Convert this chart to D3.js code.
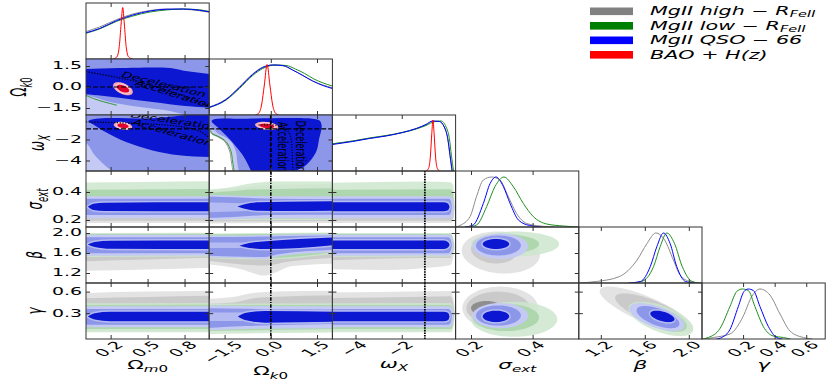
<!DOCTYPE html>
<html><head><meta charset="utf-8">
<script src="https://cdn.jsdelivr.net/npm/d3@7"></script>
<style>body{margin:0;background:#fff}svg{display:block}text{font-family:"DejaVu Sans",sans-serif}</style>
</head><body><svg id="c" width="831" height="382"></svg>
<script>
// ---------------- DATA ----------------
const paramLabels = [
  [["Ω","n"],["m","si"],["0","sn"]],
  [["Ω","n"],["k","si"],["0","sn"]],
  [["ω","i"],["X","si"]],
  [["σ","i"],["ext","si"]],
  [["β","i"]],
  [["γ","i"]]
];
const domains = [[0,1],[-2,2],[-5,0.33],[0.15,0.55],[1.0,2.12],[-0.06,0.72]];
const xTickVals = [[0.2,0.5,0.8],[-1.5,0,1.5],[-4,-2],[0.2,0.4],[1.2,1.6,2.0],[0.2,0.4,0.6]];
const xTickText = [["0.2","0.5","0.8"],["−1.5","0.0","1.5"],["−4","−2"],["0.2","0.4"],["1.2","1.6","2.0"],["0.2","0.4","0.6"]];
const yTickVals = [[],[-1.5,0,1.5],[-4,-2],[0.2,0.4],[1.2,1.6,2.0],[0.3,0.6]];
const yTickText = [[],["−1.5","0.0","1.5"],["−4","−2"],["0.2","0.4"],["1.2","1.6","2.0"],["0.3","0.6"]];

const seriesNames = ["gray","green","blue","red"];
const legendLabels = [
  [["MgII high − R","i"],["FeII","si"]],
  [["MgII low − R","i"],["FeII","si"]],
  [["MgII QSO − 66","i"]],
  [["BAO + H(z)","i"]]
];

// 1D marginals [x, relative density]
const om1D_gray  = [[0,0.55],[0.11,0.64],[0.25,0.79],[0.38,0.9],[0.52,0.97],[0.65,1.0],[0.79,0.995],[0.92,0.965],[1.0,0.935]];
const om1D_green = [[0,0.515],[0.11,0.6],[0.25,0.755],[0.38,0.86],[0.52,0.94],[0.65,0.98],[0.79,1.0],[0.92,0.985],[1.0,0.95]];
const om1D_blue  = [[0,0.525],[0.11,0.61],[0.25,0.77],[0.38,0.88],[0.52,0.96],[0.65,0.995],[0.79,1.0],[0.92,0.975],[1.0,0.945]];
const om1D_red   = [[0.22,0],[0.25,0.04],[0.27,0.25],[0.285,0.7],[0.298,1.03],[0.311,0.7],[0.326,0.25],[0.346,0.04],[0.38,0]];

const ok1D_gray  = [[-2,0.16],[-1.45,0.32],[-1.02,0.56],[-0.59,0.82],[-0.26,0.96],[0.06,1.0],[0.39,0.985],[0.71,0.9],[1.04,0.79],[1.36,0.68],[1.69,0.6],[2.0,0.545]];
const ok1D_green = [[-2,0.15],[-1.45,0.3],[-1.02,0.53],[-0.59,0.79],[-0.26,0.93],[0.15,1.0],[0.5,0.99],[0.8,0.92],[1.1,0.83],[1.4,0.72],[1.7,0.64],[2.0,0.58]];
const ok1D_blue  = [[-2,0.15],[-1.45,0.31],[-1.02,0.55],[-0.59,0.81],[-0.26,0.95],[0.06,1.0],[0.39,0.99],[0.71,0.9],[1.04,0.79],[1.36,0.68],[1.69,0.59],[2.0,0.53]];
const ok1D_red   = [[-0.5,0],[-0.4,0.03],[-0.3,0.2],[-0.21,0.6],[-0.12,1.01],[-0.03,0.6],[0.06,0.2],[0.16,0.03],[0.26,0]];

const wx1D_gray  = [[-5,0.54],[-4.12,0.6],[-3.4,0.655],[-2.68,0.705],[-1.96,0.775],[-1.37,0.85],[-0.95,0.93],[-0.66,0.995],[-0.37,0.99],[-0.16,0.88],[-0.01,0.64],[0.09,0.3],[0.18,0]];
const wx1D_green = [[-5,0.545],[-4.12,0.6],[-3.4,0.66],[-2.68,0.71],[-1.96,0.77],[-1.37,0.84],[-0.95,0.91],[-0.56,0.99],[-0.3,1.0],[-0.08,0.88],[0.06,0.65],[0.15,0.31],[0.24,0]];
const wx1D_blue  = [[-5,0.53],[-4.12,0.59],[-3.4,0.65],[-2.68,0.7],[-1.96,0.77],[-1.37,0.85],[-0.95,0.93],[-0.66,1.0],[-0.37,0.99],[-0.16,0.88],[-0.01,0.65],[0.09,0.31],[0.18,0]];
const wx1D_red   = [[-0.95,0],[-0.85,0.04],[-0.76,0.3],[-0.7,0.75],[-0.65,1.02],[-0.6,0.75],[-0.54,0.3],[-0.45,0.04],[-0.35,0]];

const sig1D_gray  = [[0.15,0],[0.164,0.03],[0.197,0.21],[0.218,0.61],[0.24,0.94],[0.267,1.0],[0.294,0.94],[0.321,0.61],[0.348,0.27],[0.381,0.07],[0.424,0.02],[0.47,0]];
const sig1D_green = [[0.19,0],[0.218,0.04],[0.251,0.41],[0.278,0.81],[0.307,1.0],[0.337,0.81],[0.37,0.47],[0.402,0.21],[0.446,0.06],[0.5,0.02],[0.55,0]];
const sig1D_blue  = [[0.18,0],[0.207,0.04],[0.24,0.47],[0.262,0.87],[0.281,1.0],[0.305,0.81],[0.327,0.47],[0.354,0.14],[0.39,0.03],[0.43,0]];

const beta1D_gray  = [[1.0,0],[1.16,0.03],[1.37,0.13],[1.53,0.46],[1.62,0.79],[1.70,1.0],[1.78,0.86],[1.86,0.46],[1.92,0.16],[2.01,0.03],[2.12,0]];
const beta1D_green = [[1.47,0],[1.57,0.03],[1.68,0.33],[1.74,0.73],[1.80,1.0],[1.87,0.79],[1.94,0.33],[2.03,0.03],[2.1,0]];
const beta1D_blue  = [[1.45,0],[1.56,0.03],[1.65,0.33],[1.71,0.73],[1.77,1.0],[1.83,0.79],[1.89,0.33],[1.97,0.03],[2.05,0]];

const gam1D_gray  = [[-0.04,0],[0.012,0.03],[0.117,0.1],[0.2,0.45],[0.255,0.85],[0.307,1.0],[0.37,0.88],[0.434,0.5],[0.497,0.16],[0.581,0.03],[0.64,0]];
const gam1D_green = [[-0.06,0],[-0.02,0.03],[0.054,0.21],[0.117,0.65],[0.16,0.95],[0.195,1.0],[0.233,0.97],[0.275,0.65],[0.328,0.25],[0.391,0.06],[0.455,0.03],[0.5,0]];
const gam1D_blue  = [[0.03,0],[0.065,0.03],[0.117,0.19],[0.17,0.65],[0.206,0.95],[0.233,1.0],[0.265,0.97],[0.307,0.65],[0.36,0.25],[0.413,0.03],[0.45,0]];

// 2D cosmology regions (polygons in data units)
const omok_light = [[-0.15,-0.45],[0,-0.57],[0.195,-1.07],[0.44,-1.43],[0.68,-1.71],[0.84,-2.07],[0.9,-2.3],[-0.15,-2.3]];
const omok_dark  = [[-0.15,1.3],[0,1.29],[0.27,1.36],[0.68,1.36],[0.81,1.14],[1.0,0.93],[1.15,0.8],[1.15,-1.55],[1,-1.48],[0.81,-1.36],[0.54,-1.07],[0.27,-0.76],[0,-0.52],[-0.15,-0.45]];
const omok_edge  = [[0,-0.6],[0.06,-0.82],[0.14,-1.05],[0.25,-1.3]];
const omok_decel = [[0,1.09],[0.25,0.69],[0.52,0.14],[0.81,-0.69],[1.0,-1.41]];
const omok_red   = [[0.30,-0.12,0.08,0.47,-0.5],[0.30,-0.12,0.05,0.28,-0.5]];

const omwx_light = [[-0.15,-2.1],[0,-2.35],[0.07,-3.48],[0.15,-4.43],[0.21,-5.0],[0.24,-5.4],[-0.15,-5.4]];
const omwx_dark  = [[0.02,-0.25],[0.08,-0.02],[0.5,0.0],[1.15,0.0],[1.15,-3.72],[1.0,-3.67],[0.757,-3.51],[0.54,-3.04],[0.325,-2.25],[0.162,-1.31],[0.056,-0.55]];
const omwx_decel = [[0,-0.33],[0.3,-0.42],[0.55,-0.55],[0.72,-0.7],[0.82,-0.88],[0.92,-1.2],[1.0,-1.8]];
const omwx_red   = [[0.30,-0.7,0.075,0.38,-0.3],[0.30,-0.7,0.045,0.22,-0.3]];

const okwx_light = [[-2.3,0.6],[2.3,0.6],[2.3,-5.5],[-1.17,-5.5],[-1.19,-5],[-1.24,-4.15],[-1.29,-3.2],[-1.45,-2.25],[-1.67,-1.78],[-1.89,-1.47],[-2,-1.02],[-2.3,-0.8]];
const okwx_mid   = [[-2.3,0.6],[2.3,0.6],[2.3,-5.5],[-1.0,-5.5],[-1.04,-5],[-1.09,-4.15],[-1.13,-3.2],[-1.28,-2.25],[-1.48,-1.78],[-1.7,-1.45],[-1.85,-1.05],[-2,-0.75],[-2.3,-0.55]];
const okwx_dark  = [[-1.92,-0.25],[-1.8,-0.06],[-1.0,-0.02],[1.35,-0.02],[1.58,-0.2],[1.65,-0.67],[1.57,-1.94],[1.47,-3.2],[1.14,-4.46],[0.82,-5.0],[0.65,-5.5],[-0.55,-5.5],[-0.64,-5.0],[-0.91,-3.51],[-1.35,-1.94],[-1.68,-0.95]];
const okwx_edge  = [[-2,-1.0],[-1.89,-1.45],[-1.67,-1.76],[-1.45,-2.22],[-1.29,-3.18],[-1.24,-4.13],[-1.19,-5]];
const okwx_decel = [[-0.4,-0.62],[0.3,-0.71],[0.57,-1.25],[0.66,-2.0],[0.69,-3.0],[0.71,-5.0]];
const okwx_red   = [[-0.13,-0.71,0.38,0.39,-0.3],[-0.13,-0.71,0.24,0.22,-0.3]];

// Nuisance bands: [series, level, [[x, low, high], ...]]
const bandSigOm = [
 ["gray",0,[[-0.1,0.178,0.385],[1.1,0.178,0.39]]],
 ["gray",1,[[-0.1,0.195,0.375],[1.1,0.195,0.38]]],
 ["green",0,[[-0.1,0.215,0.468],[0.5,0.215,0.472],[1.1,0.215,0.478]]],
 ["green",1,[[-0.1,0.22,0.415],[1.1,0.22,0.422]]],
 ["blue",0,[[-0.1,0.213,0.37],[1.1,0.213,0.37]]],
 ["blue",1,[[-0.1,0.236,0.352],[1.1,0.236,0.352]]],
 ["blue",3,[[0.015,0.294,0.294],[0.06,0.272,0.316],[0.15,0.264,0.324],[1.1,0.262,0.326]]]
];
const bandSigOk = [
 ["gray",0,[[-2.2,0.175,0.41],[-1,0.176,0.43],[0,0.178,0.45],[2.2,0.178,0.455]]],
 ["gray",1,[[-2.2,0.19,0.4],[2.2,0.193,0.44]]],
 ["green",0,[[-2.2,0.2,0.415],[-1.4,0.2,0.43],[-0.6,0.2,0.462],[0.2,0.2,0.475],[2.2,0.2,0.475]]],
 ["green",1,[[-2.2,0.208,0.39],[-1.3,0.208,0.405],[-0.6,0.21,0.418],[2.2,0.21,0.425]]],
 ["blue",0,[[-2.2,0.198,0.382],[-1,0.208,0.373],[0,0.213,0.37],[2.2,0.213,0.37]]],
 ["blue",1,[[-2.2,0.212,0.37],[-1.2,0.222,0.362],[0,0.236,0.352],[2.2,0.238,0.35]]],
 ["blue",2,[[-2.2,0.255,0.325],[-1.0,0.262,0.32],[0,0.27,0.315],[2.2,0.27,0.315]]],
 ["blue",3,[[-1.08,0.296,0.296],[-0.85,0.28,0.313],[-0.4,0.266,0.326],[0.5,0.264,0.33],[2.2,0.266,0.334]]]
];
const bandSigWx = [
 ["gray",0,[[-5.3,0.178,0.39],[-1,0.178,0.4],[0.1,0.18,0.4],[0.24,0.2,0.38],[0.3,0.29,0.29]]],
 ["gray",1,[[-5.3,0.195,0.38],[0.1,0.195,0.39],[0.22,0.21,0.37],[0.28,0.29,0.29]]],
 ["green",0,[[-5.3,0.215,0.465],[-1,0.215,0.475],[0.1,0.215,0.47],[0.22,0.23,0.45],[0.28,0.34,0.34]]],
 ["green",1,[[-5.3,0.22,0.415],[0.1,0.22,0.42],[0.2,0.23,0.4],[0.26,0.31,0.31]]],
 ["blue",0,[[-5.3,0.213,0.37],[0.1,0.213,0.37],[0.19,0.225,0.36],[0.25,0.29,0.29]]],
 ["blue",1,[[-5.3,0.236,0.352],[0.05,0.236,0.352],[0.12,0.25,0.34],[0.17,0.294,0.294]]],
 ["blue",3,[[-5.3,0.262,0.326],[-0.2,0.262,0.326],[0.0,0.27,0.318],[0.07,0.294,0.294]]]
];
const bandBetaOm = [
 ["gray",0,[[-0.1,1.24,1.99],[0.5,1.27,1.99],[1.1,1.31,1.99]]],
 ["gray",1,[[-0.1,1.43,1.97],[0.5,1.47,1.97],[1.1,1.51,1.97]]],
 ["green",0,[[-0.1,1.52,2.0],[1.1,1.53,2.005]]],
 ["green",1,[[-0.1,1.55,1.98],[1.1,1.56,1.985]]],
 ["blue",0,[[-0.1,1.546,1.966],[1.1,1.55,1.966]]],
 ["blue",1,[[-0.1,1.594,1.914],[1.1,1.596,1.914]]],
 ["blue",3,[[0.015,1.77,1.77],[0.07,1.72,1.82],[0.2,1.685,1.845],[1.1,1.68,1.848]]]
];
const bandBetaOk = [
 ["gray",0,[[-2.2,1.38,1.98],[-1,1.28,1.98],[-0.2,1.15,1.98],[0.1,1.2,1.98],[0.7,1.34,1.99],[2.2,1.39,1.99]]],
 ["gray",1,[[-2.2,1.46,1.96],[-0.2,1.35,1.96],[0.6,1.43,1.97],[2.2,1.51,1.97]]],
 ["green",0,[[-2.2,1.5,1.99],[-0.1,1.47,2.0],[2.2,1.6,2.01]]],
 ["green",1,[[-2.2,1.52,1.97],[-0.1,1.5,1.98],[2.2,1.63,1.99]]],
 ["blue",0,[[-2.2,1.514,1.946],[-1.0,1.5,1.95],[-0.2,1.48,1.96],[0.2,1.53,1.965],[2.2,1.62,1.98]]],
 ["blue",1,[[-2.2,1.55,1.92],[-0.2,1.52,1.93],[0.2,1.57,1.935],[2.2,1.67,1.95]]],
 ["blue",2,[[-2.2,1.7,1.81],[-1.0,1.7,1.81],[2.2,1.75,1.93]]],
 ["blue",3,[[-1.02,1.746,1.746],[-0.7,1.7,1.8],[-0.16,1.68,1.834],[2.2,1.766,1.914]]]
];
const bandBetaWx = [
 ["gray",0,[[-5.3,1.28,1.99],[-2.5,1.26,1.99],[-1,1.3,1.99],[0.1,1.36,1.96],[0.22,1.5,1.85],[0.29,1.68,1.68]]],
 ["gray",1,[[-5.3,1.45,1.97],[-1,1.5,1.97],[0.1,1.5,1.96],[0.2,1.6,1.85],[0.27,1.72,1.72]]],
 ["green",0,[[-5.3,1.52,2.0],[0.1,1.53,2.0],[0.22,1.6,1.92],[0.28,1.76,1.76]]],
 ["green",1,[[-5.3,1.55,1.98],[0.1,1.56,1.98],[0.2,1.62,1.9],[0.26,1.76,1.76]]],
 ["blue",0,[[-5.3,1.546,1.966],[0.08,1.55,1.966],[0.18,1.62,1.9],[0.24,1.76,1.76]]],
 ["blue",1,[[-5.3,1.594,1.914],[0.02,1.596,1.914],[0.12,1.65,1.86],[0.17,1.76,1.76]]],
 ["blue",3,[[-5.3,1.68,1.848],[-0.2,1.68,1.848],[0.0,1.71,1.82],[0.07,1.765,1.765]]]
];
const bandGamOm = [
 ["gray",0,[[-0.1,0.05,0.578],[0.5,0.05,0.6],[1.1,0.05,0.615]]],
 ["gray",1,[[-0.1,0.08,0.505],[0.5,0.08,0.525],[1.1,0.08,0.545]]],
 ["green",0,[[-0.1,0.033,0.437],[1.1,0.033,0.44]]],
 ["green",1,[[-0.1,0.08,0.414],[1.1,0.08,0.416]]],
 ["blue",0,[[-0.1,0.103,0.395],[1.1,0.103,0.395]]],
 ["blue",1,[[-0.1,0.14,0.358],[1.1,0.14,0.358]]],
 ["blue",3,[[0.015,0.253,0.253],[0.07,0.21,0.3],[0.2,0.188,0.318],[1.1,0.186,0.32]]]
];
const bandGamOk = [
 ["gray",0,[[-2.2,0.05,0.497],[-1.3,0.05,0.52],[-0.6,0.05,0.58],[0.2,0.05,0.6],[2.2,0.05,0.613]]],
 ["gray",1,[[-2.2,0.08,0.43],[-1.2,0.08,0.45],[-0.5,0.08,0.51],[0.2,0.08,0.53],[2.2,0.08,0.55]]],
 ["green",0,[[-2.2,0.01,0.43],[2.2,0.033,0.44]]],
 ["green",1,[[-2.2,0.05,0.41],[2.2,0.08,0.415]]],
 ["blue",0,[[-2.2,0.056,0.41],[-0.8,0.08,0.4],[2.2,0.09,0.395]]],
 ["blue",1,[[-2.2,0.09,0.37],[-0.8,0.12,0.36],[2.2,0.15,0.35]]],
 ["blue",2,[[-2.2,0.19,0.31],[-1.0,0.19,0.31],[2.2,0.2,0.31]]],
 ["blue",3,[[-1.07,0.253,0.253],[-0.8,0.2,0.305],[-0.2,0.168,0.33],[2.2,0.18,0.32]]]
];
const bandGamWx = [
 ["gray",0,[[-5.3,0.05,0.585],[-1,0.05,0.605],[0.1,0.06,0.61],[0.24,0.15,0.5],[0.3,0.33,0.33]]],
 ["gray",1,[[-5.3,0.08,0.51],[-1,0.08,0.53],[0.1,0.09,0.535],[0.22,0.17,0.45],[0.28,0.3,0.3]]],
 ["green",0,[[-5.3,0.033,0.437],[0.1,0.033,0.44],[0.22,0.08,0.39],[0.28,0.24,0.24]]],
 ["green",1,[[-5.3,0.08,0.414],[0.1,0.08,0.414],[0.2,0.12,0.38],[0.26,0.25,0.25]]],
 ["blue",0,[[-5.3,0.103,0.395],[0.08,0.103,0.395],[0.18,0.14,0.36],[0.24,0.25,0.25]]],
 ["blue",1,[[-5.3,0.14,0.358],[0.02,0.14,0.358],[0.12,0.17,0.33],[0.17,0.25,0.25]]],
 ["blue",3,[[-5.3,0.186,0.32],[-0.2,0.186,0.32],[0.0,0.2,0.305],[0.07,0.253,0.253]]]
];

// Compact contours: [series, level, [cx, cy, halfWidthX, halfWidthY, correlation]]
const ellSigBeta = [
 ["gray",0,[0.297,1.61,0.127,0.42,-0.1]],
 ["gray",1,[0.275,1.66,0.075,0.27,-0.1]],
 ["green",0,[0.343,1.78,0.143,0.25,0]],
 ["green",1,[0.313,1.78,0.108,0.19,0]],
 ["blue",0,[0.295,1.735,0.09,0.255,0]],
 ["blue",1,[0.289,1.75,0.073,0.2,0]],
 ["blue",3,[0.281,1.78,0.043,0.1,0]]
];
const ellSigGam = [
 ["gray",0,[0.295,0.37,0.123,0.30,0]],
 ["gray",1,[0.288,0.37,0.103,0.23,0]],
 ["gray",2,[0.25,0.37,0.05,0.1,0]],
 ["green",0,[0.34,0.215,0.14,0.245,0]],
 ["green",1,[0.313,0.24,0.108,0.19,0]],
 ["blue",0,[0.295,0.265,0.09,0.175,0]],
 ["blue",1,[0.289,0.267,0.073,0.14,0]],
 ["blue",3,[0.281,0.255,0.043,0.08,0]]
];
const ellBetaGam = [
 ["gray",0,[1.615,0.35,0.425,0.32,-0.8]],
 ["gray",1,[1.66,0.33,0.33,0.245,-0.75]],
 ["green",0,[1.745,0.22,0.295,0.24,-0.6]],
 ["green",1,[1.74,0.23,0.24,0.19,-0.6]],
 ["blue",0,[1.71,0.245,0.25,0.195,-0.6]],
 ["blue",1,[1.72,0.245,0.195,0.155,-0.6]],
 ["blue",3,[1.76,0.255,0.11,0.08,-0.5]]
];

const lcdmOk = 0, lcdmWx = -1;
const annotations = [
 [1,0,0.633,0.19,24,"Deceleration"],
 [1,0,0.725,-0.52,29,"Acceleration"],
 [2,0,0.72,-0.24,15,"Deceleration"],
 [2,0,0.706,-1.37,27,"Acceleration"],
 [2,1,0.39,-2.7,90,"Acceleration"],
 [2,1,0.98,-2.65,90,"Deceleration"]
];

// ---------------- STYLE / LAYOUT ----------------
const GX=86, GY=3, CW=123.2, RH=56, SX=1.8;
const FS_T=10.5, FS_L=12, FS_LEG=11.5, FS_ANN=8;
const lineColors = {gray:"#8a8a8a", green:"#1f8f1f", blue:"#0000ff", red:"#ff0000"};
const fillColors = {gray:["#e3e3e3","#cacaca","#8e8e8e"], green:["#cde6cd","#a8d4a8"], blue:["#c4caf4","#8d97e9","#b4bbf2","#0b17d1"], red:["#f5a9b8","#f5a9b8","#f5a9b8","#e2002d"]};
const ringColors = {blue:"#b4bbf2", red:"#f9c6cf"};
const legendColors = ["#808080","#008000","#0000ff","#ff0000"];

const oneD = [
  [["gray",om1D_gray],["green",om1D_green],["blue",om1D_blue],["red",om1D_red]],
  [["gray",ok1D_gray],["green",ok1D_green],["blue",ok1D_blue],["red",ok1D_red]],
  [["gray",wx1D_gray],["green",wx1D_green],["blue",wx1D_blue],["red",wx1D_red]],
  [["gray",sig1D_gray],["blue",sig1D_blue],["green",sig1D_green]],
  [["gray",beta1D_gray],["green",beta1D_green],["blue",beta1D_blue]],
  [["gray",gam1D_gray],["green",gam1D_green],["blue",gam1D_blue]]
];
const asBand = arr => arr.map(([s,l,d])=>["band",s,l,d]);
const asEll = arr => arr.map(([s,l,d])=>["ell",s,l,d]);
const panelLayers = {
  "1,0": [["rect","blue",1],["poly","blue",0,omok_light],["edge","green",0,omok_edge],["poly","blue",3,omok_dark],["ell","red",0,omok_red[0]],["ell","red",3,omok_red[1]]],
  "2,0": [["rect","blue",1],["poly","blue",0,omwx_light],["poly","blue",3,omwx_dark],["ell","red",0,omwx_red[0]],["ell","red",3,omwx_red[1]]],
  "2,1": [["poly","blue",0,okwx_light],["edge","gray",0,okwx_edge],["edge","green",0,okwx_edge],["poly","blue",1,okwx_mid],["poly","blue",3,okwx_dark],["ell","red",0,okwx_red[0]],["ell","red",3,okwx_red[1]]],
  "3,0": asBand(bandSigOm), "3,1": asBand(bandSigOk), "3,2": asBand(bandSigWx),
  "4,0": asBand(bandBetaOm), "4,1": asBand(bandBetaOk), "4,2": asBand(bandBetaWx),
  "5,0": asBand(bandGamOm), "5,1": asBand(bandGamOk), "5,2": asBand(bandGamWx),
  "4,3": asEll(ellSigBeta), "5,3": asEll(ellSigGam), "5,4": asEll(ellBetaGam)
};
const decelLines = [[1,0,omok_decel],[2,0,omwx_decel],[2,1,okwx_decel]];
// [row, col, orientation, value, style]
const refLines = [
 [1,0,"h",lcdmOk,"dash"],[2,0,"h",lcdmWx,"dash"],[2,1,"h",lcdmWx,"dash"],[2,1,"v",lcdmOk,"thick"],
 [3,1,"v",lcdmOk,"dashdot"],[4,1,"v",lcdmOk,"dashdot"],[5,1,"v",lcdmOk,"dashdot"],
 [3,2,"v",lcdmWx,"dot"],[4,2,"v",lcdmWx,"dot"],[5,2,"v",lcdmWx,"dot"]
];
const refStyles = {dash:["5,2",1.2], thick:["4,1.5",1.8], dashdot:["3.5,1.2,1.2,1.2",1.6], dot:["1.6,1",1.8]};

// ---------------- DRAW ----------------
const svg = d3.select("#c");
const defs = svg.append("defs");
const xs = domains.map((d,j)=>d3.scaleLinear().domain(d).range([GX+j*CW, GX+(j+1)*CW]));
const ys = domains.map((d,i)=>d3.scaleLinear().domain(d).range([GY+(i+1)*RH, GY+i*RH]));
const yd = domains.map((d,i)=>d3.scaleLinear().domain([0,1.12]).range([GY+(i+1)*RH, GY+i*RH]));

function mathText(sel, parts, fs){
  let prevSub=false;
  parts.forEach(([str,st])=>{
    const sub = st[0]==='s', it = st.includes('i');
    const t = sel.append('tspan').text(str).attr('font-size', sub? fs*0.7: fs).attr('font-style', it?'italic':'normal');
    if(sub && !prevSub) t.attr('dy', fs*0.28);
    if(!sub && prevSub) t.attr('dy', -fs*0.28);
    prevSub = sub;
  });
}
function ellPts(e){
  const [cx,cy,sx,sy,r]=e, q=Math.sqrt(1-r*r);
  return d3.range(72).map(k=>{const t=k/72*2*Math.PI; return [cx+sx*Math.cos(t), cy+sy*(r*Math.cos(t)+q*Math.sin(t))];});
}

function drawLayer(g, layer, X, Y, L, T, R, B){
  const [kind,s,l,d]=layer;
  let p;
  if(kind==="rect"){
    p = g.append('rect').attr('x',L).attr('y',T).attr('width',R-L).attr('height',B-T);
  } else if(kind==="poly"){
    p = g.append('path').attr('d', d3.line().x(v=>X(v[0])).y(v=>Y(v[1])).curve(d3.curveCatmullRomClosed.alpha(0.5))(d));
  } else if(kind==="band"){
    p = g.append('path').attr('d', d3.area().x(v=>X(v[0])).y0(v=>Y(v[1])).y1(v=>Y(v[2])).curve(d3.curveMonotoneX)(d));
  } else if(kind==="ell"){
    p = g.append('path').attr('d', d3.line().x(v=>X(v[0])).y(v=>Y(v[1])).curve(d3.curveLinearClosed)(ellPts(d)));
  } else if(kind==="edge"){
    g.append('path').attr('d', d3.line().x(v=>X(v[0])).y(v=>Y(v[1])).curve(d3.curveCatmullRom)(d))
      .attr('fill','none').attr('stroke', lineColors[s]).attr('stroke-width',0.9).attr('transform', s==="gray"?"translate(-1.2,0)":null);
    return;
  }
  p.attr('fill', fillColors[s][l]);
  if(s==="green") p.attr('fill-opacity',0.85);
  if(l===3 && (kind==="band"||kind==="ell")) p.attr('stroke', ringColors[s]).attr('stroke-width',3).attr('paint-order','stroke');
}

for(let i=0;i<6;i++){
  for(let j=0;j<=i;j++){
    const [L,R]=xs[j].range(), B=GY+(i+1)*RH, T=GY+i*RH;
    const id=`clip${i}${j}`;
    defs.append('clipPath').attr('id',id).append('rect').attr('x',L).attr('y',T).attr('width',R-L).attr('height',B-T);
    const g = svg.append('g').attr('clip-path',`url(#${id})`);
    if(i===j){
      oneD[i].forEach(([s,arr])=>{
        g.append('path').datum(arr).attr('d', d3.line().x(v=>xs[j](v[0])).y(v=>yd[i](v[1])).curve(d3.curveMonotoneX))
          .attr('fill','none').attr('stroke',lineColors[s]).attr('stroke-width',1);
      });
    } else {
      (panelLayers[`${i},${j}`]||[]).forEach(layer=>drawLayer(g,layer,xs[j],ys[i],L,T,R,B));
      decelLines.filter(r=>r[0]===i&&r[1]===j).forEach(([,,pts])=>{
        g.append('path').attr('d', d3.line().x(v=>xs[j](v[0])).y(v=>ys[i](v[1])).curve(d3.curveCatmullRom)(pts))
          .attr('fill','none').attr('stroke','#000').attr('stroke-width',1.2).attr('stroke-dasharray','1.2,1.6');
      });
      refLines.filter(r=>r[0]===i&&r[1]===j).forEach(([,,o,v,st])=>{
        const [da,w]=refStyles[st];
        const ln = g.append('line').attr('stroke','#000').attr('stroke-width',w).attr('stroke-dasharray',da);
        if(o==="h") ln.attr('x1',L).attr('x2',R).attr('y1',ys[i](v)).attr('y2',ys[i](v));
        else ln.attr('x1',xs[j](v)).attr('x2',xs[j](v)).attr('y1',T).attr('y2',B);
      });
      annotations.filter(a=>a[0]===i&&a[1]===j).forEach(([,,x,y,ang,txt])=>{
        g.append('text').attr('font-size',FS_ANN).attr('text-anchor','middle').attr('dominant-baseline','central')
          .attr('transform',`translate(${xs[j](x)},${ys[i](y)}) scale(${SX},1) rotate(${ang})`).text(txt);
      });
    }
    const ga = svg.append('g').attr('color','#333');
    ga.append('g').attr('transform',`translate(0,${B})`).call(d3.axisBottom(xs[j]).tickValues(xTickVals[j]).tickSize(-4).tickFormat(''));
    ga.append('g').attr('transform',`translate(0,${T})`).call(d3.axisTop(xs[j]).tickValues(xTickVals[j]).tickSize(-4).tickFormat(''));
    if(i!==j){
      ga.append('g').attr('transform',`translate(${L},0)`).call(d3.axisLeft(ys[i]).tickValues(yTickVals[i]).tickSize(-4).tickFormat(''));
      ga.append('g').attr('transform',`translate(${R},0)`).call(d3.axisRight(ys[i]).tickValues(yTickVals[i]).tickSize(-4).tickFormat(''));
    }
    ga.selectAll('.domain').remove();
    ga.selectAll('text').remove();
    svg.append('rect').attr('x',L).attr('y',T).attr('width',R-L).attr('height',B-T).attr('fill','none').attr('stroke','#333').attr('stroke-width',1);
  }
}

// x tick labels + x axis labels
const gl = svg.append('g').attr('fill','#000');
const axisBottomY = GY+6*RH;
for(let j=0;j<6;j++){
  let bottom = axisBottomY;
  xTickVals[j].forEach((v,k)=>{
    const t = gl.append('text').attr('font-size',FS_T).attr('text-anchor','middle').attr('dominant-baseline','central').text(xTickText[j][k]);
    const w = t.node().getComputedTextLength();
    const D = (w + 0.73*FS_T)/Math.SQRT2;
    const cx = xs[j](v)-1.5, cy = axisBottomY + 1.5 + D/2;
    t.attr('transform',`translate(${cx},${cy}) scale(${SX},1) rotate(-45)`);
    bottom = Math.max(bottom, cy + D/2);
  });
  const lab = gl.append('text').attr('text-anchor','middle')
    .attr('transform',`translate(${(xs[j].range()[0]+xs[j].range()[1])/2},${bottom+2.5+0.73*FS_L}) scale(${SX},1)`);
  mathText(lab, paramLabels[j], FS_L);
}
// y tick labels + y axis labels
for(let i=1;i<6;i++){
  let wmax = 0;
  yTickVals[i].forEach((v,k)=>{
    const t = gl.append('text').attr('font-size',FS_T).attr('text-anchor','end').attr('dominant-baseline','central').text(yTickText[i][k]);
    wmax = Math.max(wmax, t.node().getComputedTextLength());
    t.attr('transform',`translate(${GX-4},${ys[i](v)}) scale(${SX},1)`);
  });
  const minLeft = GX - 4 - SX*wmax;
  const xl = minLeft - 6 - 0.2*FS_L*SX;
  const yc = GY + (i+0.5)*RH;
  const lab = gl.append('text').attr('text-anchor','middle').attr('transform',`translate(${xl},${yc}) scale(${SX},1) rotate(-90)`);
  mathText(lab, paramLabels[i], FS_L);
}

// legend
const LGX = 590, LGW = 43, LGY = 11.3, LGS = 14.5;
legendLabels.forEach((parts,k)=>{
  const yc = LGY + k*LGS;
  svg.append('rect').attr('x',LGX).attr('y',yc-3.8).attr('width',LGW).attr('height',7.6).attr('fill',legendColors[k]);
  const t = svg.append('text').attr('dominant-baseline','central').attr('transform',`translate(${LGX+60},${yc}) scale(${SX},1)`);
  mathText(t, parts, FS_LEG);
});
</script></body></html>
